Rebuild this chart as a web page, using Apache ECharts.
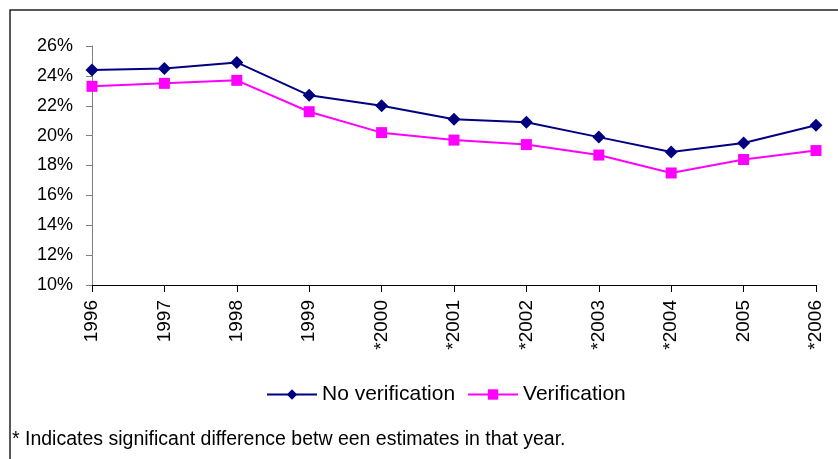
<!DOCTYPE html>
<html>
<head>
<meta charset="utf-8">
<script src="https://cdn.jsdelivr.net/npm/echarts@6/dist/echarts.min.js"></script>
<style>
  html, body { margin: 0; padding: 0; background: #fff; }
  #chart { width: 838px; height: 459px; }
</style>
</head>
<body>
<div id="chart"></div>
<script>
// data
var years = ['1996', '1997', '1998', '1999', '*2000', '*2001', '*2002', '*2003', '*2004', '2005', '*2006']
var noVerification = [24.4, 24.5, 24.9, 22.7, 22.0, 21.1, 20.9, 19.9, 18.9, 19.5, 20.7]
var verification = [23.3, 23.5, 23.7, 21.6, 20.2, 19.7, 19.4, 18.7, 17.5, 18.4, 19.0]
var footnote = '* Indicates significant difference betw een estimates in that year.'

var chart = echarts.init(document.getElementById('chart'))
var font = 'Liberation Sans, Arial, sans-serif'

chart.setOption({
    animation: false,
    color: ['#000080', '#FF00FF'],
    textStyle: { fontFamily: font },
    grid: {
        left: 92,
        right: 22,
        top: 46,
        bottom: 174
    },
    legend: {
        top: 379,
        left: 261,
        itemWidth: 50,
        itemHeight: 13,
        itemGap: 12,
        textStyle: { fontSize: 21, color: '#000', fontFamily: font },
        data: ['No verification', 'Verification']
    },
    graphic: [
        {
            type: 'rect',
            shape: { x: 10, y: 10, width: 840, height: 470 },
            style: { fill: 'none', stroke: '#222', lineWidth: 1.5 }
        },
        {
            type: 'text',
            left: 12,
            top: 430,
            style: { text: footnote, fontSize: 19.5, fill: '#000', fontFamily: font }
        }
    ],
    xAxis: {
        type: 'category',
        data: years,
        boundaryGap: false,
        axisLine: { lineStyle: { color: '#000', width: 1 } },
        axisTick: { show: true, alignWithLabel: true, length: 7, lineStyle: { color: '#000' } },
        axisLabel: {
            rotate: 90,
            interval: 0,
            margin: 15,
            fontSize: 19,
            color: '#000',
            fontFamily: font
        }
    },
    yAxis: {
        type: 'value',
        min: 10,
        max: 26,
        interval: 2,
        splitLine: { show: false },
        axisLine: { show: true, lineStyle: { color: '#808080', width: 1 } },
        axisTick: { show: true, length: 6, lineStyle: { color: '#808080' } },
        axisLabel: {
            formatter: '{value}%',
            fontSize: 18,
            color: '#000',
            margin: 19,
            fontFamily: font
        }
    },
    series: [
        {
            name: 'No verification',
            type: 'line',
            data: noVerification,
            symbol: 'diamond',
            symbolSize: 13,
            lineStyle: { width: 2 }
        },
        {
            name: 'Verification',
            type: 'line',
            data: verification,
            symbol: 'rect',
            symbolSize: 11,
            lineStyle: { width: 2 }
        }
    ]
})
</script>
</body>
</html>
